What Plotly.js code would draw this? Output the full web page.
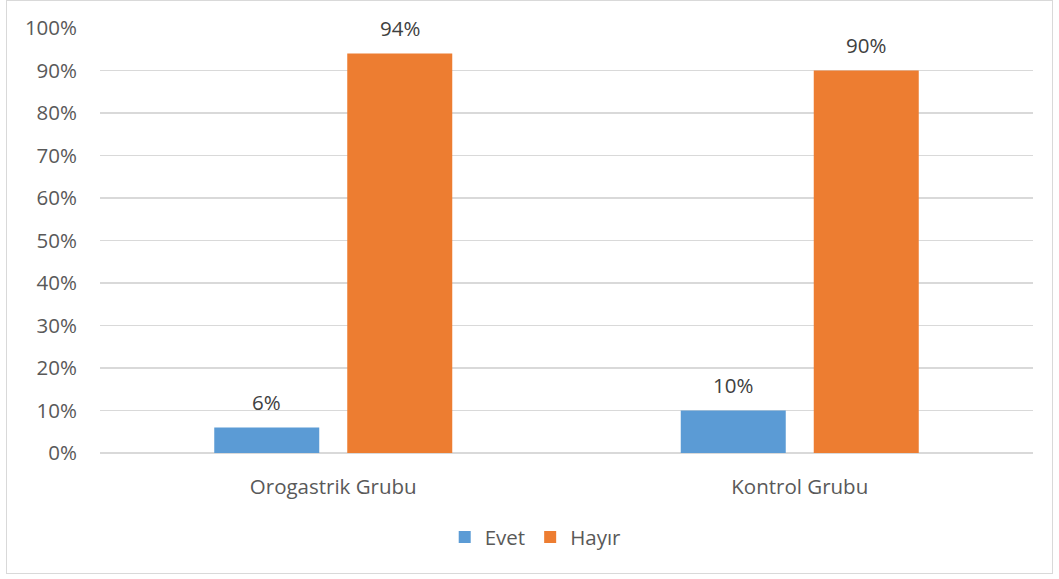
<!DOCTYPE html>
<html>
<head>
<meta charset="utf-8">
<script src="https://cdn.plot.ly/plotly-3.0.1.min.js"></script>
<style>
  html, body { margin: 0; padding: 0; background: #fff; }
  #chart { width: 1059px; height: 579px; position: absolute; left: 0; top: 0; }
  #frame { position: absolute; left: 6px; top: 0px; width: 1045px; height: 572px; border: 1px solid #d9d9d9; pointer-events: none; }
</style>
</head>
<body>
<div id="chart"></div>
<div id="frame"></div>
<script>
const categories = ["Orogastrik Grubu", "Kontrol Grubu"];
const seriesNames = ["Evet", "Hayır"];
const evet = [6, 10];
const hayir = [94, 90];
const yTicks = [0, 10, 20, 30, 40, 50, 60, 70, 80, 90, 100];

const font = "'Open Sans', 'Noto Sans', sans-serif";
const fs = 20.5;

const traces = [
  { type: 'bar', name: seriesNames[0], x: categories, y: evet, marker: { color: '#5B9BD5' }, hoverinfo: 'none' },
  { type: 'bar', name: seriesNames[1], x: categories, y: hayir, marker: { color: '#ED7D31' }, hoverinfo: 'none' }
];

const annotations = [];
[evet, hayir].forEach((vals, si) => {
  vals.forEach((v, ci) => {
    annotations.push({
      x: categories[ci], y: v, xref: 'x', yref: 'y',
      text: v + '%', showarrow: false,
      xshift: si === 0 ? -66.5 : 66.5, yshift: 26, yanchor: 'middle',
      font: { family: font, size: fs, color: '#404040' }
    });
  });
});

const layout = {
  width: 1059, height: 579,
  margin: { l: 100, r: 26, t: 28, b: 126 },
  paper_bgcolor: '#fff', plot_bgcolor: '#fff',
  font: { family: font, size: fs, color: '#595959' },
  barmode: 'group', bargap: 0.4298, bargroupgap: 0.2105,
  showlegend: true,
  legend: {
    orientation: 'h', x: 0.467, xanchor: 'center', y: -0.198, yanchor: 'middle',
    font: { family: font, size: fs, color: '#595959' },
    traceorder: 'normal', itemwidth: 30
  },
  annotations: annotations,
  xaxis: {
    type: 'category', showgrid: false, zeroline: false, showline: false,
    ticks: '', ticklabelstandoff: 19,
    tickfont: { family: font, size: fs, color: '#595959' }
  },
  yaxis: {
    range: [0, 100], tickvals: yTicks, ticktext: yTicks.map(v => v + '%'),
    showgrid: true, gridcolor: '#d9d9d9', gridwidth: 1.5, zeroline: true,
    zerolinecolor: '#d9d9d9', zerolinewidth: 1.5, showline: false, ticks: '',
    ticklabelstandoff: 22,
    tickfont: { family: font, size: fs, color: '#595959' }
  }
};

Plotly.newPlot('chart', traces, layout, { displayModeBar: false, staticPlot: true });
</script>
</body>
</html>
